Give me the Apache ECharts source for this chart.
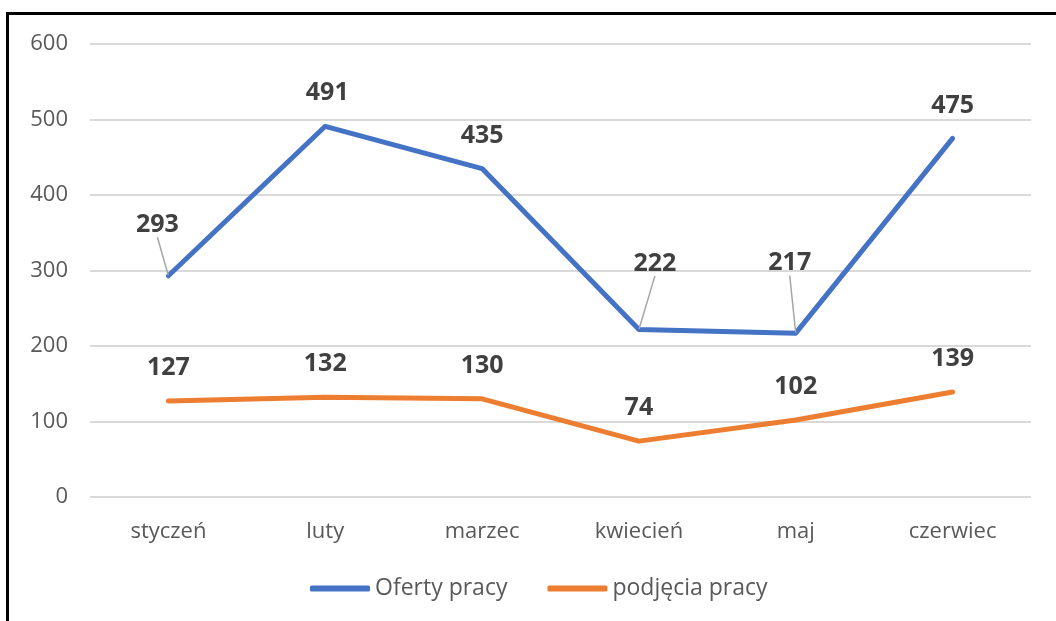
<!DOCTYPE html>
<html><head><meta charset="utf-8">
<script src="https://cdn.jsdelivr.net/npm/echarts@6/dist/echarts.min.js"></script>
<style>html,body{margin:0;padding:0;background:#fff}#c{width:1056px;height:621px}</style>
</head><body><div id="c"></div>
<script>
const categories = ['styczeń', 'luty', 'marzec', 'kwiecień', 'maj', 'czerwiec'];
const ofertyPracy = [293, 491, 435, 222, 217, 475];
const podjeciaPracy = [127, 132, 130, 74, 102, 139];
const seriesNames = ['Oferty pracy', 'podjęcia pracy'];
const yTicks = [0, 100, 200, 300, 400, 500, 600];

// label nudges (layout only); large vertical nudge => leader line
const nudges = [
  [[-11, -18], [2, 0], [0, 0], [16, -33], [-6, -37], [0, 0]],
  [[0, 0], [0, 0], [0, 0], [0, 0], [0, 0], [0, 0]]
];

const FONT = '"Open Sans", sans-serif';
const chart = echarts.init(document.getElementById('c'));
const labelCfg = {
  show: true, position: 'top', distance: 20,
  fontFamily: FONT, fontSize: 25, fontWeight: 'bold', color: '#404040'
};
function items(values, s) {
  return values.map((v, i) => {
    const n = nudges[s][i];
    const moved = Math.abs(n[1]) > 5;
    return { value: v, labelLine: { show: moved } };
  });
}
chart.setOption({
  animation: false,
  graphic: [
    { type: 'rect', left: 6, top: 12, shape: { width: 1050, height: 3 }, style: { fill: '#000' } },
    { type: 'rect', left: 6, top: 12, shape: { width: 3, height: 609 }, style: { fill: '#000' } }
  ],
  grid: { left: 90, right: 25, top: 44, bottom: 124 },
  legend: {
    bottom: 21, left: 310, itemWidth: 60, itemHeight: 6, itemGap: 40,
    icon: 'roundRect', padding: 0,
    textStyle: { fontFamily: FONT, fontSize: 23, color: '#595959' },
    data: seriesNames
  },
  xAxis: {
    type: 'category', data: categories, boundaryGap: true,
    axisLine: { show: false }, axisTick: { show: false },
    axisLabel: { fontFamily: FONT, fontSize: 22, color: '#595959', margin: 24 }
  },
  yAxis: {
    type: 'value', min: yTicks[0], max: yTicks[yTicks.length - 1], interval: 100,
    axisLine: { show: false }, axisTick: { show: false },
    splitLine: { lineStyle: { color: '#d9d9d9', width: 2 } },
    axisLabel: { fontFamily: FONT, fontSize: 22, color: '#595959', margin: 22 }
  },
  series: [
    {
      name: seriesNames[0], type: 'line', data: items(ofertyPracy, 0),
      showSymbol: true, symbol: 'circle', symbolSize: 1,
      lineStyle: { color: '#4472C4', width: 5, cap: 'round', join: 'round' },
      itemStyle: { color: '#4472C4' },
      label: labelCfg,
      labelLine: { lineStyle: { color: '#a6a6a6', width: 1.5 } },
      labelLayout: p => ({ dx: nudges[0][p.dataIndex][0], dy: nudges[0][p.dataIndex][1] })
    },
    {
      name: seriesNames[1], type: 'line', data: items(podjeciaPracy, 1),
      showSymbol: true, symbol: 'circle', symbolSize: 1,
      lineStyle: { color: '#ED7D31', width: 5, cap: 'round', join: 'round' },
      itemStyle: { color: '#ED7D31' },
      label: labelCfg
    }
  ]
});
</script></body></html>
